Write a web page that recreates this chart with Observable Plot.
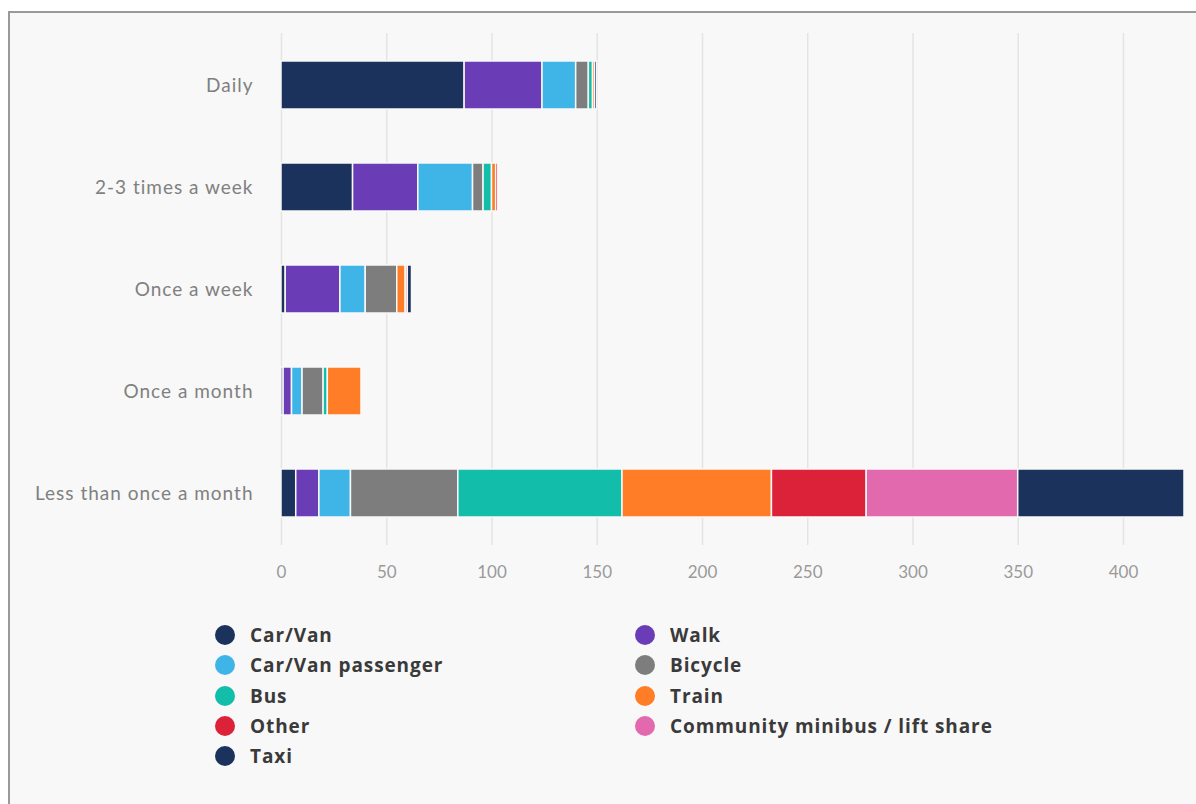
<!DOCTYPE html>
<html>
<head>
<meta charset="utf-8">
<script src="https://cdn.jsdelivr.net/npm/d3@7"></script>
<script src="https://cdn.jsdelivr.net/npm/@observablehq/plot@0.6"></script>
<style>
  html, body { margin: 0; padding: 0; background: #ffffff; width: 1196px; height: 804px; overflow: hidden; }
  #frame { position: absolute; left: 8px; top: 11px; width: 1300px; height: 900px;
           border-left: 2px solid #9a9a9a; border-top: 2px solid #9a9a9a; background: #f8f8f8; }
  #chart { position: absolute; left: 0; top: 0; }
  #chart svg g[aria-label="y-axis tick label"] text { letter-spacing: 1px; }
  #legend { position: absolute; left: 0; top: 620px; width: 1196px; font-family: "Open Sans", sans-serif;
            font-weight: 700; font-size: 19px; letter-spacing: 0.9px; color: #3a3a3a; }
  .item { position: absolute; display: flex; align-items: center; height: 30px; }
  .dot { width: 20px; height: 20px; border-radius: 50%; margin-right: 15px; }
</style>
</head>
<body>
<div id="frame"></div>
<div id="chart"></div>
<div id="legend"></div>
<script>
const categories = ["Daily", "2-3 times a week", "Once a week", "Once a month", "Less than once a month"];
const modes = ["Car/Van", "Walk", "Car/Van passenger", "Bicycle", "Bus", "Train", "Other", "Community minibus / lift share", "Taxi"];
const modeColors = ["#1b325c", "#6a3db6", "#3fb4e6", "#7d7d7d", "#12bdaa", "#ff7d26", "#dc2239", "#e269ad", "#1b325c"];
const carVan    = [87, 34, 2, 1, 7];
const walk      = [37, 31, 26, 4, 11];
const passenger = [16, 26, 12, 5, 15];
const bicycle   = [6, 5, 15, 10, 51];
const bus       = [2, 4, 0, 2, 78];
const train     = [1, 2, 4, 16, 71];
const other     = [0, 1, 0, 0, 45];
const community = [0, 0, 1, 0, 72];
const taxi      = [1, 0, 2, 0, 79];
const xTicks = [0, 50, 100, 150, 200, 250, 300, 350, 400];

const series = [carVan, walk, passenger, bicycle, bus, train, other, community, taxi];
const rows = [];
modes.forEach((m, i) => categories.forEach((c, j) => rows.push({mode: m, freq: c, value: series[i][j]})));
const totals = categories.map((c, j) => d3.sum(series, s => s[j]));

const chart = Plot.plot({
  width: 1196,
  height: 595,
  marginLeft: 281,
  marginRight: 12,
  marginTop: 33,
  marginBottom: 50,
  style: {background: "transparent", fontFamily: "Lato, sans-serif"},
  x: {domain: [0, d3.max(totals)], ticks: xTicks, label: null},
  y: {domain: categories, paddingInner: 0.53, paddingOuter: 0.265, label: null},
  color: {domain: modes, range: modeColors},
  marks: [
    Plot.gridX(xTicks, {stroke: "#e4e4e4", strokeOpacity: 1, strokeWidth: 1.5}),
    Plot.barX(rows, Plot.stackX({y: "freq", x: "value", fill: "mode", order: modes, stroke: "#f8f8f8", strokeWidth: 1.5})),
    Plot.axisY({tickSize: 0, tickPadding: 28, fontSize: 19, fill: "#808080", label: null, ariaLabel: "y-axis"}),
    Plot.axisX(xTicks, {tickSize: 0, tickPadding: 20, fontSize: 17, fill: "#9a9a9a", label: null})
  ]
});
document.getElementById("chart").appendChild(chart);

const legend = document.getElementById("legend");
modes.forEach((m, i) => {
  const col = i % 2, row = Math.floor(i / 2);
  const el = document.createElement("div");
  el.className = "item";
  el.style.left = (col === 0 ? 215 : 635) + "px";
  el.style.top = (row * 30.3) + "px";
  const dot = document.createElement("span");
  dot.className = "dot";
  dot.style.background = modeColors[i];
  const t = document.createElement("span");
  t.textContent = m;
  el.appendChild(dot); el.appendChild(t);
  legend.appendChild(el);
});
</script>
</body>
</html>
